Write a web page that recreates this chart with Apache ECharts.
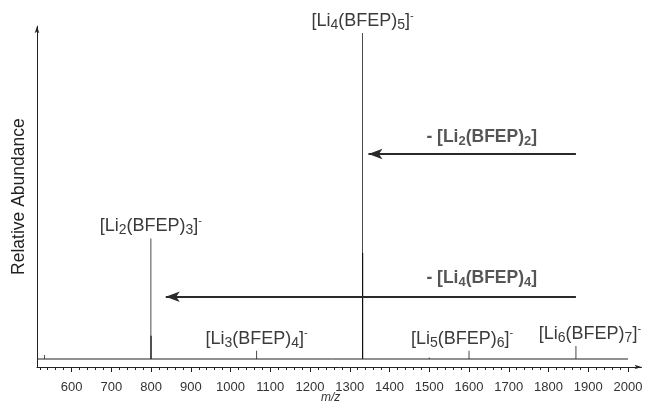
<!DOCTYPE html>
<html>
<head>
<meta charset="utf-8">
<script src="https://cdn.jsdelivr.net/npm/echarts@6/dist/echarts.min.js"></script>
<style>
html,body{margin:0;padding:0;background:#fff;}
#chart{width:646px;height:404px;}
</style>
</head>
<body>
<div id="chart"></div>
<script>
// ---------- data ----------
const xMin = 513, xMax = 2034;
const yMin = -2.45, yMax = 102.1;
const majorTicks = [600, 700, 800, 900, 1000, 1100, 1200, 1300, 1400, 1500, 1600, 1700, 1800, 1900, 2000];
const peakMz     = [532, 799.5, 1065.5, 1332, 1500, 1600, 1869];
const peakHeight = [1.2, 37.0, 2.5, 100, 0.5, 2.5, 4.0];
const peakLabels = [null, '[Li{s|2}(BFEP){s|3}]{p|-}', '[Li{s|3}(BFEP){s|4}]{p|-}', '[Li{s|4}(BFEP){s|5}]{p|-}', null, '[Li{s|5}(BFEP){s|6}]{p|-}', '[Li{s|6}(BFEP){s|7}]{p|-}'];
const shoulderMz     = [800, 1332.5];
const shoulderHeight = [7.1, 32.5];
const baselineRange = [xMin, 2000];
// loss arrows: [tail m/z, head m/z, relative abundance level]
const lossArrows = [[1869, 1347, 62.9], [1869, 837, 19.1]];
const lossLabels = ['- [Li{s|2}(BFEP){s|2}]', '- [Li{s|4}(BFEP){s|4}]'];
const lossLabelPos = [[1632, 68.1], [1632, 24.8]];

// ---------- styling ----------
const FONT = "'Liberation Sans', Arial, Helvetica, sans-serif";
const labelShift = {5: -7, 6: 14};
const minorTicks = [];
for (let v = 520; v <= 2000; v += 20) minorTicks.push(v);

const richPeak = {
  n: {fontSize: 18, fontFamily: FONT, color: '#3a3a3a', lineHeight: 22},
  s: {fontSize: 14, fontFamily: FONT, color: '#3a3a3a', lineHeight: 13, verticalAlign: 'bottom'},
  p: {fontSize: 11, fontFamily: FONT, color: '#3a3a3a', lineHeight: 11, verticalAlign: 'top'}
};
const richLoss = {
  n: {fontSize: 17.5, fontWeight: 'bold', fontFamily: FONT, color: '#2a2a2a', lineHeight: 22},
  s: {fontSize: 13, fontWeight: 'bold', fontFamily: FONT, color: '#2a2a2a', lineHeight: 12, verticalAlign: 'bottom'}
};
function wrapN(str) {
  return str.replace(/(^|\})([^{]+)(?=\{|$)/g, (m, a, b) => a + '{n|' + b + '}');
}

const peakData = peakMz.map((mz, i) => {
  const item = {value: [mz, peakHeight[i]]};
  if (peakLabels[i]) {
    item.label = {
      show: true, position: 'top', distance: 1,
      offset: [labelShift[i] || 0, 0],
      formatter: wrapN(peakLabels[i]), rich: richPeak
    };
  }
  return item;
});
const shoulderData = shoulderMz.map((mz, i) => [mz, shoulderHeight[i]]);

const chart = echarts.init(document.getElementById('chart'), null, {renderer: 'canvas'});
chart.setOption({
  animation: false,
  backgroundColor: '#fff',
  title: {
    text: 'm/z', left: 321, top: 392, padding: 0,
    textStyle: {fontStyle: 'italic', fontWeight: 'normal', fontSize: 12, color: '#333', fontFamily: FONT}
  },
  grid: {left: 37, right: 4.5, top: 26.2, bottom: 37},
  xAxis: [{
    type: 'value', min: xMin, max: xMax,
    axisLine: {show: true, onZero: false, symbol: ['none', 'arrow'], symbolSize: [3.5, 7], lineStyle: {color: '#222', width: 1}},
    axisTick: {show: true, customValues: minorTicks, length: 3, lineStyle: {color: '#222'}},
    axisLabel: {show: true, customValues: majorTicks, margin: 14, fontSize: 13, color: '#333', fontFamily: FONT,
      formatter: v => String(v)},
    splitLine: {show: false}
  }, {
    type: 'value', min: xMin, max: xMax, position: 'bottom',
    axisLine: {show: false, onZero: false},
    axisTick: {show: true, customValues: majorTicks, length: 5, lineStyle: {color: '#222'}},
    axisLabel: {show: false},
    splitLine: {show: false}
  }],
  yAxis: {
    type: 'value', min: yMin, max: yMax,
    name: 'Relative Abundance', nameLocation: 'middle', nameGap: 9,
    nameTextStyle: {fontSize: 17.5, color: '#222', fontFamily: FONT},
    axisLine: {show: true, onZero: false, symbol: ['none', 'arrow'], symbolSize: [3.5, 7], lineStyle: {color: '#222', width: 1}},
    axisTick: {show: false}, axisLabel: {show: false}, splitLine: {show: false}
  },
  series: [{
    type: 'line', name: 'baseline',
    data: baselineRange.map(x => [x, 0]),
    symbol: 'none', lineStyle: {color: '#222', width: 1}, silent: true,
    markLine: {
      silent: true, symbol: ['arrow', 'none'], symbolSize: [8, 14],
      lineStyle: {color: '#2a2a2a', width: 2, type: 'solid'},
      label: {show: false},
      data: lossArrows.map(a => [{coord: [a[1], a[2]]}, {coord: [a[0], a[2]]}])
    }
  }, {
    type: 'bar', name: 'peaks', data: peakData, barWidth: 1,
    itemStyle: {color: '#4a4a4a'}, silent: true
  }, {
    type: 'bar', name: 'shoulders', data: shoulderData, barWidth: 1, barGap: '-100%',
    itemStyle: {color: '#000'}, silent: true
  }, {
    type: 'scatter', name: 'loss labels', symbolSize: 0,
    data: lossLabelPos.map((p, i) => ({
      value: p,
      label: {show: true, position: 'inside', formatter: wrapN(lossLabels[i]), rich: richLoss}
    })),
    silent: true
  }]
});
</script>
</body>
</html>
